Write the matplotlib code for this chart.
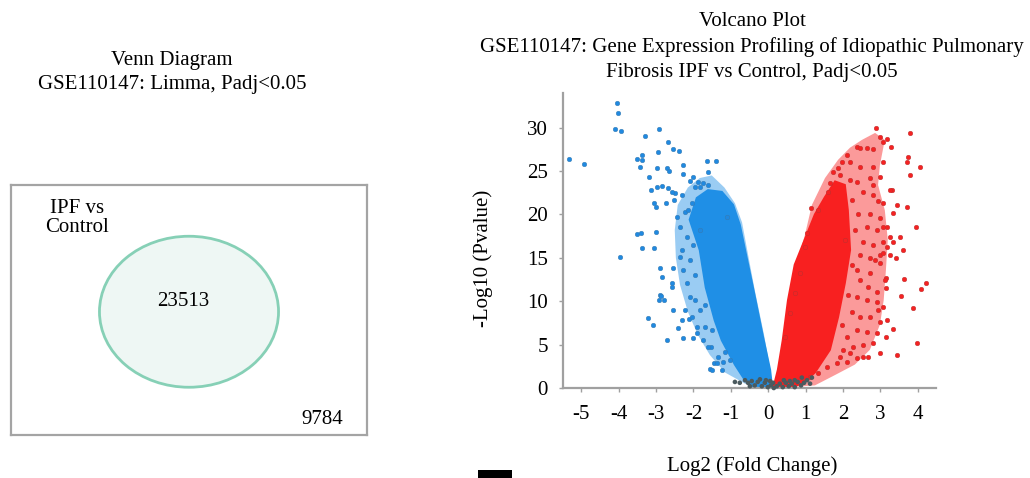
import matplotlib
matplotlib.use("Agg")
import matplotlib.pyplot as plt
from matplotlib.patches import Ellipse, Rectangle, Polygon

plt.rcParams['font.family'] = ['Liberation Serif', 'DejaVu Serif']
plt.rcParams['font.size'] = 15

# ---- data ----
venn_label = "IPF vs\nControl"
venn_inside = 23513
venn_outside = 9784

xticks = [-5, -4, -3, -2, -1, 0, 1, 2, 3, 4]
yticks = [0, 5, 10, 15, 20, 25, 30]

# dense cores of the volcano (log2FC, -log10 p)
blue_core_x = [-1.91, -2.10, -1.83, -1.67, -1.43, -1.24, -0.89, -0.62, -0.44,
               0.10, 0.05, -0.14, -0.41, -0.62, -0.76, -0.94, -1.24, -1.61]
blue_core_y = [21.9, 19.4, 15.9, 11.6, 7.8, 5.5, 2.7, 0.9, 0.2,
               0.2, 2.1, 5.9, 11.6, 15.9, 18.8, 21.1, 22.6, 22.8]
red_core_x = [0.15, 0.26, 0.39, 0.53, 0.71, 0.98, 1.25, 1.52, 1.79,
              2.05, 2.13, 2.19, 2.05, 1.87, 1.65, 1.25, 0.98, 0.71]
red_core_y = [0.2, 2.1, 5.5, 10.1, 14.2, 17.1, 20.0, 22.0, 23.8,
              23.4, 20.5, 15.9, 12.1, 8.2, 4.4, 1.8, 0.7, 0.2]

# looser halo around each core (speckled area)
blue_halo_x = [-1.51, -1.17, -0.89, -0.70, -0.57, -0.36, -0.11, 0.07, -0.01, -0.62,
               -1.16, -1.56, -1.88, -2.15, -2.36, -2.47, -2.50, -2.42, -2.15, -1.83]
blue_halo_y = [24.5, 23.1, 21.3, 19.1, 16.1, 11.3, 6.1, 1.8, 0.2, 0.5,
               1.8, 3.8, 6.1, 8.8, 11.9, 15.0, 18.2, 21.1, 23.1, 24.2]
red_halo_x = [0.21, 0.39, 0.58, 0.77, 0.98, 1.17, 1.52, 1.87, 2.19, 2.51, 2.86, 3.12,
              2.99, 2.94, 3.12, 3.20, 3.15, 3.09, 2.99, 2.72, 2.32, 1.79, 1.25]
red_halo_y = [0.0, 5.0, 10.1, 14.5, 17.6, 21.1, 24.2, 26.3, 27.7, 28.6, 29.4, 28.6,
              25.7, 23.4, 20.5, 17.1, 13.6, 10.1, 7.3, 4.4, 2.7, 1.5, 0.3]

# down-regulated genes outside the core
blue_x = [-4.05, -4.02, -4.10, -3.94, -5.33, -4.93, -3.30, -2.93, -2.68, -2.95,
          -2.55, -2.39, -3.51, -3.38, -3.38, -3.43, -2.98, -2.71, -2.66, -3.19,
          -3.14, -2.98, -2.85, -2.68, -2.50, -3.06, -3.01, -2.52, -2.28, -2.28,
          -1.64, -1.40, -1.61, -2.02, -2.10, -2.74, -3.51, -3.41, -3.38, -3.06,
          -3.97, -3.01, -2.90, -2.85, -2.58, -2.90, -2.93, -2.79, -2.55, -3.22,
          -3.09, -2.71, -2.28, -2.02, -2.42, -2.12, -1.53, -1.45, -1.56, -1.35,
          -1.21, -2.55, -2.58, -2.87, -1.75, -1.91, -1.51, -1.37, -2.58, -2.31,
          -2.44, -2.36, -2.31, -2.36, -2.28, -2.18, -2.10, -2.23, -2.04, -1.91,
          -1.69, -1.61, -1.24, -2.31, -1.96, -1.83, -2.18, -2.23, -2.04, -1.96,
          -1.75, -1.61, -1.88, -1.83, -1.11, -2.10, -1.96, -2.02, -1.83, -2.15,
          -1.69, -1.51, -1.16, -1.03]
blue_y = [32.8, 31.7, 29.8, 29.6, 26.4, 25.8, 29.0, 29.9, 28.4, 27.2,
          27.5, 27.3, 26.4, 26.8, 26.3, 25.5, 25.3, 25.4, 25.0, 24.3,
          22.8, 23.2, 23.3, 23.1, 22.5, 21.3, 20.9, 21.7, 25.7, 24.7,
          26.2, 26.2, 24.9, 24.3, 23.9, 21.3, 17.8, 17.9, 16.1, 16.1,
          15.1, 18.0, 13.8, 12.8, 12.1, 10.7, 10.1, 10.1, 9.0, 8.1,
          7.3, 5.5, 5.8, 5.8, 6.9, 8.0, 4.7, 2.9, 2.2, 3.6,
          3.0, 13.8, 11.6, 10.6, 5.5, 6.3, 2.1, 2.9, 22.6, 22.3,
          19.7, 18.6, 15.9, 15.1, 13.6, 12.1, 10.5, 9.0, 8.2, 7.0,
          7.0, 4.7, 2.1, 7.8, 10.1, 9.0, 17.4, 20.3, 21.3, 23.2,
          23.6, 23.4, 23.8, 23.2, 19.7, 14.8, 13.0, 16.5, 18.2, 20.5,
          9.6, 6.7, 4.2, 3.2]

# up-regulated genes outside the core
red_x = [2.88, 3.79, 2.99, 3.18, 3.07, 3.28, 2.37, 2.45, 3.74, 3.71,
         4.06, 3.79, 3.31, 3.71, 1.14, 3.95, 3.34, 3.53, 3.61, 3.42,
         3.63, 4.22, 4.09, 3.15, 3.55, 3.87, 3.34, 3.98, 3.44, 3.15,
         2.99, 2.80, 2.67, 2.53, 3.18, 3.07, 2.91, 3.12, 2.99, 3.18,
         3.26, 3.07, 3.07, 2.64, 2.80, 2.11, 1.97, 2.19, 2.45, 2.80,
         3.07, 2.99, 2.80, 2.72, 3.26, 3.44, 2.94, 2.80, 2.53, 2.37,
         1.73, 1.65, 1.60, 2.99, 2.72, 3.18, 2.91, 2.64, 3.34, 3.07,
         2.80, 2.53, 3.26, 2.99, 2.72, 2.45, 3.07, 3.15, 2.91, 2.67,
         2.45, 2.37, 2.72, 2.86, 2.64, 2.37, 2.94, 2.72, 2.45, 2.24,
         2.99, 2.91, 2.64, 2.37, 2.11, 2.53, 2.27, 2.00, 2.37, 2.11,
         1.84, 1.57, 1.33, 1.12, 1.92, 2.19, 1.04, 0.98, 0.85, 0.71,
         0.58, 0.45, 2.24, 2.32, 2.24, 2.13, 1.97, 2.05, 2.40, 1.92,
         2.19, 1.33, 1.87]
red_y = [30.0, 29.4, 28.9, 28.7, 28.3, 27.8, 27.8, 27.7, 26.6, 26.1,
         25.5, 24.6, 22.8, 20.9, 20.8, 18.5, 20.2, 17.4, 15.9, 15.0,
         12.6, 12.1, 11.4, 12.7, 10.6, 9.2, 6.8, 5.2, 3.8, 5.9,
         4.0, 5.2, 3.6, 3.6, 7.8, 9.3, 9.9, 12.5, 14.4, 16.3,
         17.4, 18.6, 21.3, 27.7, 27.5, 26.9, 26.1, 26.0, 25.5, 25.5,
         26.1, 24.3, 23.4, 24.2, 22.8, 21.1, 21.5, 22.3, 22.6, 23.8,
         24.9, 23.6, 22.6, 19.6, 20.0, 18.5, 18.2, 18.5, 16.8, 16.8,
         16.5, 16.8, 15.3, 15.3, 15.0, 15.3, 15.6, 11.5, 11.1, 11.6,
         12.5, 13.6, 13.3, 14.8, 10.1, 10.5, 9.0, 8.2, 8.2, 8.8,
         7.6, 6.3, 6.5, 6.7, 5.9, 5.0, 4.7, 4.4, 3.5, 3.0,
         2.9, 2.4, 1.7, 1.3, 3.6, 4.0, 17.9, 16.3, 13.3, 11.0,
         8.7, 5.9, 21.7, 18.2, 14.2, 10.7, 7.3, 17.1, 20.0, 24.6,
         24.0, 20.5, 25.4]

# not significant genes near the origin
grey_x = [-0.76, -0.62, -0.54, -0.44, -0.36, -0.28, -0.22, -0.17, -0.09, -0.06,
          -0.01, 0.05, 0.07, 0.13, 0.15, 0.23, 0.31, 0.39, 0.42, 0.47,
          0.55, 0.58, 0.63, 0.71, 0.71, 0.79, 0.88, 0.90, 0.96, 1.04,
          1.12, 1.17, -0.89, -0.49]
grey_y = [0.6, 0.9, 0.6, 0.8, 0.3, 0.7, 1.0, 0.2, 0.6, 0.9,
          0.1, 0.8, 0.3, 0.6, 0.0, 0.2, 0.5, 0.1, 0.9, 0.6,
          0.2, 0.8, 0.5, 0.9, 0.1, 0.7, 0.3, 1.2, 0.6, 0.9,
          0.5, 1.2, 0.7, 0.2]

W, H = 1030, 478
fig = plt.figure(figsize=(W / 100, H / 100), dpi=100)

# ---- Venn panel ----
fig.text(172 / W, 1 - 60 / H, "Venn Diagram", ha='center', va='center')
fig.text(172 / W, 1 - 84 / H, "GSE110147: Limma, Padj<0.05", ha='center', va='center')

vax = fig.add_axes([11 / W, 1 - 435 / H, 356 / W, 250 / H])
vax.set_xlim(0, 1)
vax.set_ylim(0, 1)
vax.set_xticks([])
vax.set_yticks([])
for s in vax.spines.values():
    s.set_color('#a4a4a4')
    s.set_linewidth(1.6)
vax.add_patch(Ellipse((0.50, 0.493), 0.503, 0.604, facecolor='#eef7f4',
                      edgecolor='#86d0b6', linewidth=2))
vax.text(0.185, 0.868, venn_label, ha='center', va='center', linespacing=1.05)
vax.text(0.483, 0.532, str(venn_inside), ha='center', va='center')
vax.text(0.874, 0.064, str(venn_outside), ha='center', va='center')

# ---- Volcano panel ----
fig.text(752 / W, 1 - 22 / H, "Volcano Plot", ha='center', va='center')
fig.text(752 / W, 1 - 47 / H, "GSE110147: Gene Expression Profiling of Idiopathic Pulmonary",
         ha='center', va='center')
fig.text(752 / W, 1 - 72 / H, "Fibrosis IPF vs Control, Padj<0.05", ha='center', va='center')

ax = fig.add_axes([563 / W, 1 - 388 / H, (936 - 563) / W, 295 / H])
ax.set_xlim(-5.49, 4.49)
ax.set_ylim(0, 34)

# halos first, then the solid cores
ax.add_patch(Polygon(list(zip(blue_halo_x, blue_halo_y)), closed=True,
                     facecolor='#1f8fe6', edgecolor='none', alpha=0.45))
ax.add_patch(Polygon(list(zip(red_halo_x, red_halo_y)), closed=True,
                     facecolor='#f82020', edgecolor='none', alpha=0.45))
ax.add_patch(Polygon(list(zip(blue_core_x, blue_core_y)), closed=True,
                     facecolor='#1f8fe6', edgecolor='#1f8fe6', linewidth=1.5))
ax.add_patch(Polygon(list(zip(red_core_x, red_core_y)), closed=True,
                     facecolor='#f82020', edgecolor='#f82020', linewidth=1.5))
ax.scatter(blue_x, blue_y, s=11, c='#2089e0', edgecolors='#3a78a8', linewidths=0.3,
           clip_on=False, zorder=3)
ax.scatter(red_x, red_y, s=11, c='#f42222', edgecolors='#b53030', linewidths=0.3,
           clip_on=False, zorder=3)
ax.scatter(grey_x, grey_y, s=11, c='#4b5a5e', edgecolors='none', clip_on=False, zorder=4)

for side in ['top', 'right']:
    ax.spines[side].set_visible(False)
for side in ['left', 'bottom']:
    ax.spines[side].set_color('#a0a0a0')
    ax.spines[side].set_linewidth(1.6)
ax.set_xticks(xticks)
ax.set_xticklabels([str(t) for t in xticks])
ax.set_yticks(yticks)
ax.tick_params(axis='both', colors='#a0a0a0', length=3, width=1, labelcolor='black')
ax.tick_params(axis='x', pad=9)
ax.tick_params(axis='y', pad=8)

fig.text(483 / W, 1 - 258 / H, "-Log10 (Pvalue)", rotation=90, ha='center', va='center')
fig.text(752 / W, 1 - 466 / H, "Log2 (Fold Change)", ha='center', va='center')

fig.patches.append(Rectangle((478 / W, 0), 34 / W, 8 / H, transform=fig.transFigure,
                             facecolor='black', edgecolor='none'))

fig.savefig("out.png", dpi=100)
